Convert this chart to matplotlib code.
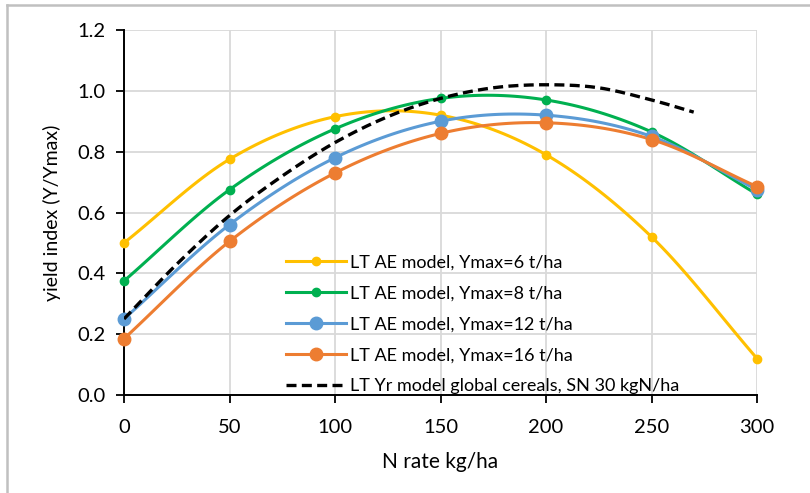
import matplotlib.pyplot as plt
import numpy as np
from matplotlib.lines import Line2D

plt.rcParams['font.family'] = ['Lato', 'DejaVu Sans']

n_rate = [0, 50, 100, 150, 200, 250, 300]
y_6 = [0.50, 0.775, 0.915, 0.92, 0.79, 0.52, 0.12]
y_8 = [0.375, 0.675, 0.875, 0.975, 0.97, 0.865, 0.66]
y_12 = [0.25, 0.56, 0.78, 0.90, 0.92, 0.85, 0.675]
y_16 = [0.185, 0.505, 0.73, 0.86, 0.895, 0.84, 0.685]

n_rate_yr = [0, 25, 50, 75, 100, 125, 150, 175, 200, 225, 250, 270]
y_yr = [0.25, 0.43, 0.59, 0.72, 0.83, 0.915, 0.975, 1.01, 1.02, 1.01, 0.97, 0.93]

labels = ["LT AE model, Ymax=6 t/ha", "LT AE model, Ymax=8 t/ha",
          "LT AE model, Ymax=12 t/ha", "LT AE model, Ymax=16 t/ha"]
colors = ["#FFC000", "#00B050", "#5B9BD5", "#ED7D31"]
msizes = [6, 6, 9, 9]


def smooth(x, y, n=20):
    # excel-like smoothed line (catmull-rom through the points)
    x = np.asarray(x, float)
    y = np.asarray(y, float)
    px = np.concatenate([[2 * x[0] - x[1]], x, [2 * x[-1] - x[-2]]])
    py = np.concatenate([[2 * y[0] - y[1]], y, [2 * y[-1] - y[-2]]])
    xs, ys = [], []
    t = np.linspace(0, 1, n, endpoint=False)
    for i in range(1, len(px) - 2):
        for p, out in ((px, xs), (py, ys)):
            p0, p1, p2, p3 = p[i - 1], p[i], p[i + 1], p[i + 2]
            out.extend(0.5 * ((2 * p1) + (-p0 + p2) * t
                              + (2 * p0 - 5 * p1 + 4 * p2 - p3) * t ** 2
                              + (-p0 + 3 * p1 - 3 * p2 + p3) * t ** 3))
    xs.append(x[-1])
    ys.append(y[-1])
    return np.array(xs), np.array(ys)


W, H = 810, 493
fig = plt.figure(figsize=(W / 100, H / 100), dpi=100)
# grey frame (only left and top edges show in the picture)
fig.add_artist(Line2D([7 / W, 7 / W], [0, 1 - 5 / H], color="#C0C0C0", linewidth=1.8))
fig.add_artist(Line2D([7 / W, 1], [1 - 5 / H, 1 - 5 / H], color="#C0C0C0", linewidth=1.8))

ax = fig.add_axes([124 / W, 1 - 395 / H, (757 - 124) / W, (395 - 30) / H])

series = [y_6, y_8, y_12, y_16]
handles = []
for ys, lab, c, ms in zip(series, labels, colors, msizes):
    sx, sy = smooth(n_rate, ys)
    ax.plot(sx, sy, color=c, linewidth=2.2, zorder=3)
    ax.plot(n_rate, ys, 'o', color=c, markersize=ms, zorder=4, clip_on=False)
    h, = ax.plot([], [], color=c, linewidth=2.2, marker='o', markersize=ms, label=lab)
    handles.append(h)

sx, sy = smooth(n_rate_yr, y_yr)
h, = ax.plot(sx, sy, color="black", linestyle=(0, (3, 1.6)), linewidth=2.4, zorder=5,
             label="LT Yr model global cereals, SN 30 kgN/ha")
handles.append(h)

ax.set_xlim(0, 300)
ax.set_ylim(0, 1.2)
ax.set_xticks(n_rate)
yt = np.arange(0, 1.21, 0.2)
ax.set_yticks(yt)
ax.set_yticklabels([f"{v:.1f}" for v in yt])
ax.grid(True, color="#D9D9D9", linewidth=1.3)
ax.set_axisbelow(True)
for s in ["top", "right"]:
    ax.spines[s].set_visible(False)
ax.spines["left"].set_linewidth(1.4)
ax.spines["bottom"].set_linewidth(1.4)
ax.tick_params(direction="out", length=6, width=1.3, labelsize=14.5, pad=7)
ax.tick_params(axis="x", pad=11)
ax.set_xlabel("N rate kg/ha", fontsize=15, labelpad=12)
ax.set_ylabel("yield index (Y/Ymax)", fontsize=14, labelpad=12)

ax.legend(handles=handles, loc="lower left", bbox_to_anchor=(286 / W, 1 - 394 / H),
          bbox_transform=fig.transFigure, frameon=False, fontsize=13,
          handlelength=3.3, labelspacing=0.82, handletextpad=0.25,
          borderpad=0, borderaxespad=0)

fig.savefig("out.png", dpi=100)
